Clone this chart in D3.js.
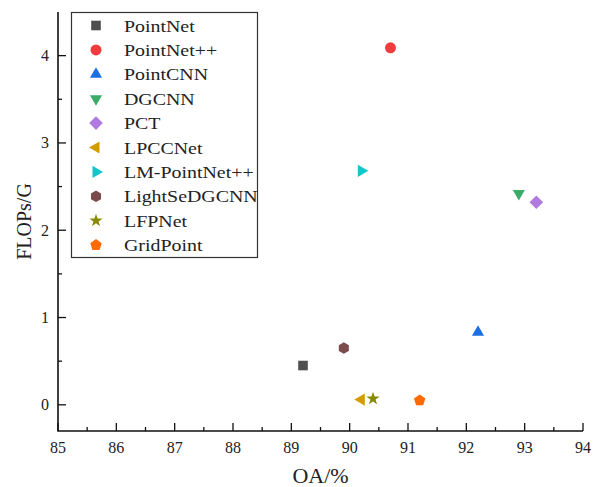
<!DOCTYPE html>
<html>
<head>
<meta charset="utf-8">
<script src="https://cdn.jsdelivr.net/npm/d3@7"></script>
<style>
  html, body { margin: 0; padding: 0; background: #fff; }
  svg { display: block; }
  text { font-family: "Liberation Serif", "Times New Roman", serif; fill: #222; }
</style>
</head>
<body>
<svg id="chart" width="593" height="487"></svg>
<script>
// Model names, accuracy (OA, %) and compute cost (FLOPs, G)
const models = ["PointNet", "PointNet++", "PointCNN", "DGCNN", "PCT", "LPCCNet",
                "LM-PointNet++", "LightSeDGCNN", "LFPNet", "GridPoint"];
const oa     = [89.2, 90.7, 92.2, 92.9, 93.2, 90.2, 90.2, 89.9, 90.4, 91.2];
const flops  = [0.45, 4.09, 0.83, 2.42, 2.32, 0.06, 2.68, 0.65, 0.07, 0.05];
const colors = ["#4f4f4f", "#f03c3c", "#1c6fe3", "#3aab68", "#b07ae0", "#d39c00",
                "#11c7cc", "#7b4b4b", "#8a8a00", "#ff6a00"];
const shapes = ["square", "circle", "triUp", "triDown", "diamond", "triLeft",
                "triRight", "hexagon", "star", "pentagon"];
const xTicks = [85, 86, 87, 88, 89, 90, 91, 92, 93, 94];
const yTicks = [0, 1, 2, 3, 4];

const svg = d3.select("#chart");
const mLeft = 58, mRight = 583, mTop = 12, mBottom = 431;

const x = d3.scaleLinear().domain([85, 94]).range([mLeft, mRight]);
const y = d3.scaleLinear().domain([-0.3, 4.5]).range([mBottom, mTop]);

// Marker paths (centred at the origin)
function polygon(n, r, rot) {
  const p = d3.path();
  for (let i = 0; i < n; i++) {
    const a = rot + i * 2 * Math.PI / n;
    const px = r * Math.cos(a), py = r * Math.sin(a);
    if (i === 0) p.moveTo(px, py); else p.lineTo(px, py);
  }
  p.closePath();
  return p.toString();
}
function markerPath(kind) {
  switch (kind) {
    case "square":   return "M-4.8,-4.8H4.8V4.8H-4.8Z";
    case "circle":   return d3.symbol(d3.symbolCircle, 95)();
    case "triUp":    return polygon(3, 7, -Math.PI / 2);
    case "triDown":  return polygon(3, 7, Math.PI / 2);
    case "triLeft":  return polygon(3, 7, Math.PI);
    case "triRight": return polygon(3, 7, 0);
    case "diamond":  return polygon(4, 6.8, 0);
    case "hexagon":  return polygon(6, 5.8, -Math.PI / 2);
    case "pentagon": return polygon(5, 6, -Math.PI / 2);
    case "star":     return d3.symbol(d3.symbolStar, 55)();
  }
}

// Axes with inward ticks
const axisColor = "#111";
const g = svg.append("g");

// minor ticks
const xMinor = d3.range(85.5, 94, 1);
const yMinor = [0.5, 1.5, 2.5, 3.5];
g.selectAll(".xminor").data(xMinor).join("line")
  .attr("x1", d => x(d)).attr("x2", d => x(d))
  .attr("y1", mBottom).attr("y2", mBottom - 4)
  .attr("stroke", axisColor).attr("stroke-width", 1.3);
g.selectAll(".yminor").data(yMinor).join("line")
  .attr("x1", mLeft).attr("x2", mLeft + 4)
  .attr("y1", d => y(d)).attr("y2", d => y(d))
  .attr("stroke", axisColor).attr("stroke-width", 1.3);

// major ticks
g.selectAll(".xmajor").data(xTicks).join("line")
  .attr("x1", d => x(d)).attr("x2", d => x(d))
  .attr("y1", mBottom).attr("y2", mBottom - 8)
  .attr("stroke", axisColor).attr("stroke-width", 1.3);
g.selectAll(".ymajor").data(yTicks).join("line")
  .attr("x1", mLeft).attr("x2", mLeft + 8)
  .attr("y1", d => y(d)).attr("y2", d => y(d))
  .attr("stroke", axisColor).attr("stroke-width", 1.3);

// axis lines
g.append("path")
  .attr("d", `M${mLeft},${mTop}V${mBottom}H${mRight}`)
  .attr("fill", "none").attr("stroke", axisColor).attr("stroke-width", 1.6);

// tick labels
g.selectAll(".xlab").data(xTicks).join("text")
  .attr("x", d => x(d)).attr("y", mBottom + 22)
  .attr("text-anchor", "middle").attr("font-size", 16)
  .text(d => d);
g.selectAll(".ylab").data(yTicks).join("text")
  .attr("x", mLeft - 9).attr("y", d => y(d) + 5.5)
  .attr("text-anchor", "end").attr("font-size", 16)
  .text(d => d);

// axis titles (slightly wide lettering)
const xt = (mLeft + mRight) / 2;
svg.append("text")
  .attr("transform", `translate(${xt},483) scale(1.1,1)`)
  .attr("text-anchor", "middle").attr("font-size", 20)
  .text("OA/%");
svg.append("text")
  .attr("transform", `translate(31,${(mTop + mBottom) / 2}) rotate(-90)`)
  .attr("text-anchor", "middle").attr("font-size", 20)
  .text("FLOPs/G");

// data points
const idx = d3.range(models.length);
svg.append("g").selectAll("path").data(idx).join("path")
  .attr("d", i => markerPath(shapes[i]))
  .attr("transform", i => `translate(${x(oa[i])},${y(flops[i])})`)
  .attr("fill", i => colors[i]);

// legend
const lg = svg.append("g");
lg.append("rect")
  .attr("x", 71.5).attr("y", 12.5).attr("width", 186).attr("height", 245)
  .attr("fill", "#fff").attr("stroke", "#333").attr("stroke-width", 1.2);
const rowY = i => 25.5 + i * 24.4;
lg.selectAll("path").data(idx).join("path")
  .attr("d", i => markerPath(shapes[i]))
  .attr("transform", i => `translate(96,${rowY(i)})`)
  .attr("fill", i => colors[i]);
lg.selectAll("text").data(idx).join("text")
  .attr("transform", i => `translate(124,${rowY(i) + 6}) scale(1.17,1)`)
  .attr("font-size", 17)
  .text(i => models[i]);
</script>
</body>
</html>
